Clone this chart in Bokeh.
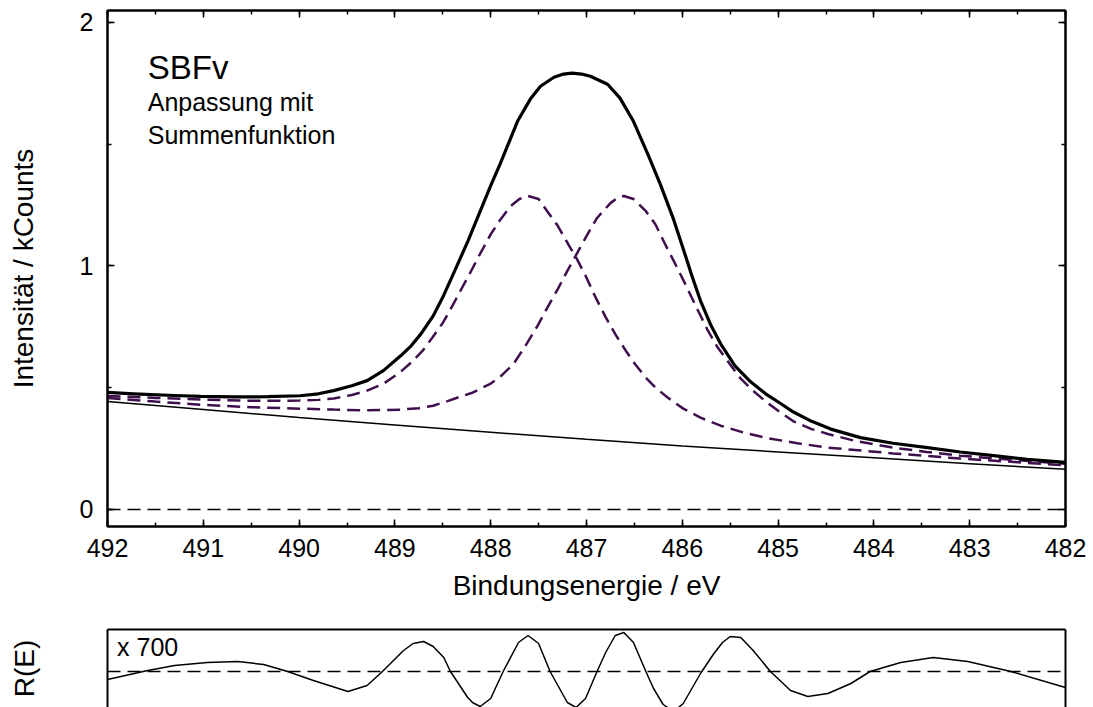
from bokeh.plotting import figure
from bokeh.models import Range1d, LinearAxis, SingleIntervalTicker, Label, Span
from bokeh.layouts import column
from bokeh.embed import file_html
from bokeh.resources import INLINE

# ---------------- data ----------------
# Sum / envelope curve
sum_e = [492.0, 491.73, 491.3, 491.03, 490.68, 490.33, 489.99, 489.8, 489.64, 489.45,
         489.29, 489.12, 488.94, 488.83, 488.73, 488.6, 488.49, 488.37, 488.24, 488.12,
         488.0, 487.9, 487.72, 487.58, 487.48, 487.34, 487.24, 487.15, 487.05, 486.96,
         486.78, 486.65, 486.51, 486.36, 486.23, 486.09, 485.99, 485.9, 485.81, 485.7,
         485.6, 485.45, 485.29, 485.13, 484.97, 484.84, 484.65, 484.45, 484.14, 483.8,
         483.44, 483.1, 482.75, 482.4, 482.0]
sum_v = [0.481, 0.475, 0.468, 0.464, 0.462, 0.463, 0.467, 0.475, 0.488, 0.508,
         0.529, 0.570, 0.631, 0.672, 0.720, 0.795, 0.880, 0.985, 1.100, 1.215,
         1.330, 1.420, 1.594, 1.689, 1.738, 1.775, 1.788, 1.792, 1.788, 1.779,
         1.746, 1.689, 1.594, 1.459, 1.336, 1.190, 1.070, 0.960, 0.857, 0.755,
         0.680, 0.590, 0.525, 0.475, 0.434, 0.400, 0.362, 0.330, 0.295, 0.272,
         0.254, 0.236, 0.221, 0.206, 0.193]

# Component A (maximum near 487.6 eV)
compA_e = [492.0, 491.5, 491.0, 490.5, 490.0, 489.8, 489.64, 489.45, 489.29, 489.12,
           488.94, 488.82, 488.71, 488.61, 488.5, 488.4, 488.32, 488.21, 488.11, 488.0,
           487.9, 487.79, 487.7, 487.61, 487.5, 487.41, 487.3, 487.17, 487.115, 487.01,
           486.91, 486.8, 486.7, 486.59, 486.49, 486.38, 486.28, 486.15, 485.99, 485.81,
           485.6, 485.36, 485.11, 484.8, 484.48, 484.1, 483.8, 483.4, 483.1, 482.5, 482.0]
compA_v = [0.466, 0.458, 0.451, 0.446, 0.447, 0.450, 0.456, 0.470, 0.488, 0.516,
           0.565, 0.607, 0.652, 0.705, 0.766, 0.836, 0.895, 0.975, 1.050, 1.130,
           1.190, 1.246, 1.275, 1.287, 1.275, 1.225, 1.165, 1.075, 1.040, 0.960,
           0.875, 0.790, 0.720, 0.652, 0.595, 0.541, 0.500, 0.459, 0.414, 0.377,
           0.344, 0.316, 0.293, 0.272, 0.254, 0.241, 0.230, 0.218, 0.209, 0.194, 0.181]

# Component B (maximum near 486.6 eV)
compB_e = [492.0, 491.5, 491.03, 490.5, 489.99, 489.64, 489.3, 488.94, 488.75, 488.6,
           488.45, 488.32, 488.2, 488.11, 488.0, 487.9, 487.76, 487.62, 487.51, 487.41,
           487.3, 487.2, 487.115, 486.99, 486.89, 486.75, 486.68, 486.61, 486.51, 486.38,
           486.28, 486.18, 486.05, 485.95, 485.84, 485.74, 485.63, 485.5, 485.39, 485.26,
           485.11, 484.97, 484.84, 484.65, 484.48, 484.2, 483.8, 483.45, 483.1, 482.5, 482.0]
compB_v = [0.458, 0.443, 0.430, 0.420, 0.414, 0.410, 0.407, 0.410, 0.416, 0.426,
           0.445, 0.463, 0.478, 0.495, 0.517, 0.545, 0.598, 0.683, 0.755, 0.828,
           0.905, 0.980, 1.040, 1.130, 1.197, 1.258, 1.278, 1.287, 1.275, 1.225,
           1.170, 1.090, 0.990, 0.910, 0.820, 0.740, 0.665, 0.595, 0.537, 0.487,
           0.437, 0.397, 0.362, 0.330, 0.310, 0.282, 0.254, 0.236, 0.221, 0.202, 0.188]

# Background
bg_e = [492.0, 491.0, 490.0, 489.0, 488.0, 487.0, 486.0, 485.0, 484.0, 483.0, 482.0]
bg_v = [0.443, 0.410, 0.378, 0.347, 0.317, 0.288, 0.261, 0.236, 0.212, 0.188, 0.165]

# Residual R(E), scaled x 700 (arbitrary units)
res_e = [492.00, 491.58, 491.3, 490.96, 490.64, 490.37, 490.12, 489.85, 489.49, 489.29,
         489.13, 488.91, 488.81, 488.70, 488.60, 488.49, 488.42, 488.24, 488.19, 488.11,
         488.00, 487.87, 487.71, 487.61, 487.50, 487.38, 487.20, 487.11, 487.01, 486.89,
         486.80, 486.70, 486.61, 486.51, 486.38, 486.30, 486.20, 486.09, 485.99, 485.81,
         485.67, 485.58, 485.50, 485.39, 485.26, 485.08, 484.87, 484.69, 484.48, 484.24,
         484.04, 483.72, 483.38, 483.02, 482.57, 482.00]
res_v = [-0.8, 0.1, 0.6, 0.9, 1.0, 0.7, 0.0, -0.9, -2.0, -1.4,
         0.0, 2.1, 2.8, 3.0, 2.5, 1.4, 0.0, -2.6, -3.1, -3.5,
         -2.7, 0.0, 2.9, 3.6, 2.8, 0.0, -3.1, -3.6, -2.7, 0.0,
         1.9, 3.6, 3.9, 2.9, 0.0, -1.7, -3.3, -4.0, -3.2, -0.2,
         1.8, 2.9, 3.5, 3.4, 2.1, 0.0, -1.9, -2.5, -2.2, -1.2,
         0.0, 0.9, 1.4, 1.0, 0.0, -1.6]

x_ticks_interval = 1
y_ticks_interval = 1

FONT = "Liberation Sans"
PURPLE = "#3f0f4d"

# ---------------- main plot ----------------
p = figure(width=1093, height=612, x_range=Range1d(492, 482), y_range=Range1d(-0.07, 2.049),
           output_backend="svg", toolbar_location=None,
           min_border_left=107, min_border_right=28, min_border_top=10, min_border_bottom=86)
p.grid.visible = False
p.outline_line_color = "black"
p.outline_line_width = 2
p.background_fill_color = "white"
p.border_fill_color = "white"


def style_axis(ax, ticker, labels=True):
    ax.ticker = ticker
    ax.axis_line_width = 2
    ax.axis_line_color = "black"
    ax.major_tick_in = 7
    ax.major_tick_out = 0
    ax.minor_tick_in = 4
    ax.minor_tick_out = 0
    ax.major_tick_line_width = 1.5
    ax.minor_tick_line_width = 1.5
    ax.major_tick_line_color = "black"
    ax.minor_tick_line_color = "black"
    ax.major_label_text_font = FONT
    if labels:
        ax.major_label_text_font_size = "25px"
        ax.major_label_text_color = "black"
    else:
        ax.major_label_text_font_size = "1px"
        ax.major_label_text_color = None
        ax.major_label_standoff = 0


style_axis(p.xaxis[0], SingleIntervalTicker(interval=x_ticks_interval, num_minor_ticks=2))
style_axis(p.yaxis[0], SingleIntervalTicker(interval=y_ticks_interval, num_minor_ticks=2))
p.xaxis[0].major_label_standoff = 12
p.yaxis[0].major_label_standoff = 14
p.xaxis[0].axis_label = "Bindungsenergie / eV"
p.yaxis[0].axis_label = "Intensität / kCounts"
for ax in (p.xaxis[0], p.yaxis[0]):
    ax.axis_label_text_font = FONT
    ax.axis_label_text_font_size = "28px"
    ax.axis_label_text_font_style = "normal"
    ax.axis_label_text_color = "black"
p.xaxis[0].axis_label_standoff = 10
p.yaxis[0].axis_label_standoff = 38

top_ax = LinearAxis()
style_axis(top_ax, SingleIntervalTicker(interval=x_ticks_interval, num_minor_ticks=2), labels=False)
p.add_layout(top_ax, "above")
right_ax = LinearAxis()
style_axis(right_ax, SingleIntervalTicker(interval=y_ticks_interval, num_minor_ticks=2), labels=False)
p.add_layout(right_ax, "right")

p.add_layout(Span(location=0, dimension="width", line_color="black", line_width=1.5,
                  line_dash="13 7"))

p.line(bg_e, bg_v, line_color="black", line_width=1.5)
p.line(compA_e, compA_v, line_color=PURPLE, line_width=2.5, line_dash="13 7")
p.line(compB_e, compB_v, line_color=PURPLE, line_width=2.5, line_dash="13 7")
p.line(sum_e, sum_v, line_color="black", line_width=3.2, line_join="round")

p.add_layout(Label(x=491.58, y=1.737, text="SBFv", text_font=FONT, text_font_size="33px",
                   text_color="black"))
p.add_layout(Label(x=491.58, y=1.614, text="Anpassung mit", text_font=FONT,
                   text_font_size="25px", text_color="black"))
p.add_layout(Label(x=491.58, y=1.482, text="Summenfunktion", text_font=FONT,
                   text_font_size="25px", text_color="black"))

# ---------------- residual plot ----------------
r = figure(width=1093, height=95, x_range=p.x_range, y_range=Range1d(-3.6, 4.2),
           output_backend="svg", toolbar_location=None, x_axis_location="above",
           min_border_left=107, min_border_right=28, min_border_top=17, min_border_bottom=0)
r.grid.visible = False
r.outline_line_color = None
r.background_fill_color = "white"
r.border_fill_color = "white"

for ax in (r.xaxis[0], r.yaxis[0]):
    ax.axis_line_width = 2
    ax.axis_line_color = "black"
    ax.major_tick_line_color = None
    ax.minor_tick_line_color = None
    ax.major_label_text_font_size = "1px"
    ax.major_label_text_color = None
    ax.major_label_standoff = 0
r.yaxis[0].axis_label = "R(E)"
r.yaxis[0].axis_label_text_font = FONT
r.yaxis[0].axis_label_text_font_size = "28px"
r.yaxis[0].axis_label_text_font_style = "normal"
r.yaxis[0].axis_label_text_color = "black"
r.yaxis[0].axis_label_standoff = 62

r_right = LinearAxis(axis_line_width=2, axis_line_color="black", major_tick_line_color=None,
                     minor_tick_line_color=None, major_label_text_font_size="1px",
                     major_label_text_color=None, major_label_standoff=0)
r.add_layout(r_right, "right")

r.add_layout(Span(location=0, dimension="width", line_color="black", line_width=1.5,
                  line_dash="13 7"))
r.line(res_e, res_v, line_color="black", line_width=1.5)
r.add_layout(Label(x=491.9, y=1.1, text="x 700", text_font=FONT, text_font_size="25px",
                   text_color="black"))

layout = column(p, r, spacing=0)
open("out.html", "w").write(file_html(layout, INLINE))
